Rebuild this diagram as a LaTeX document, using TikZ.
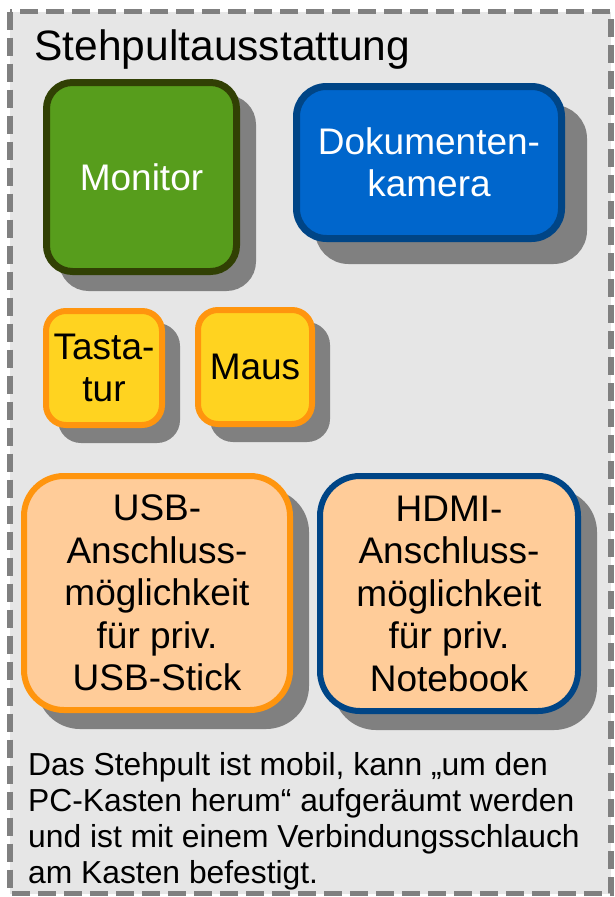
\documentclass[tikz,border=0pt]{standalone}
\usepackage{fontspec}
\setmainfont{Liberation Sans}
\usetikzlibrary{shadows}
\definecolor{bggray}{HTML}{E6E6E6}
\definecolor{framegray}{HTML}{808080}
\definecolor{shadowgray}{HTML}{808080}
\definecolor{mongreen}{HTML}{579D1C}
\definecolor{mondark}{HTML}{314004}
\definecolor{camblue}{HTML}{0066CC}
\definecolor{darkblue}{HTML}{004586}
\definecolor{ylw}{HTML}{FFD320}
\definecolor{orng}{HTML}{FF950E}
\definecolor{peach}{HTML}{FFCC99}
\tikzset{
  box/.style={rectangle, inner sep=0pt, align=center,
    font=\fontsize{37}{42.5}\selectfont},
  shad/.style={general shadow={shadow xshift=#1, shadow yshift=-#1,
    fill=shadowgray, draw=shadowgray}},
}
\begin{document}
\begin{tikzpicture}[x=1pt,y=-1pt]
\useasboundingbox (0,0) rectangle (614,897);
\draw[fill=bggray, draw=framegray, line width=5.5pt, dash pattern=on 18pt off 8pt]
  (10,11.5) rectangle (611,893.5);
\node[anchor=base west, font=\fontsize{42.5}{48}\selectfont] (title) at (31,60) {Stehpultausstattung};

\node[box, shad=16pt, fill=mongreen, draw=mondark, line width=7pt, rounded corners=26pt,
  minimum width=190pt, minimum height=189pt, text=white] (monitor) at (141.5,177) {Monitor};
\node[box, shad=22pt, fill=camblue, draw=darkblue, line width=7pt, rounded corners=30pt,
  minimum width=265pt, minimum height=152pt, text=white] (kamera) at (429,162.5) {Dokumenten-\\kamera};

\node[box, shad=15pt, fill=ylw, draw=orng, line width=6pt, rounded corners=20pt,
  minimum width=116pt, minimum height=114pt] (tastatur) at (104,368) {Tasta-\\tur};
\node[box, shad=15pt, fill=ylw, draw=orng, line width=6pt, rounded corners=20pt,
  minimum width=114pt, minimum height=114pt] (maus) at (255,367) {Maus};

\node[box, shad=16pt, fill=peach, draw=orng, line width=6pt, rounded corners=40pt,
  minimum width=266pt, minimum height=234pt] (usb) at (157,593)
  {USB-\\Anschluss-\\möglichkeit\\für priv.\\USB-Stick};
\node[box, shad=16pt, fill=peach, draw=darkblue, line width=6pt, rounded corners=40pt,
  minimum width=258pt, minimum height=235pt] (hdmi) at (449,593.5)
  {HDMI-\\Anschluss-\\möglichkeit\\für priv.\\Notebook};

\node[anchor=base west, align=left, inner sep=0pt, font=\fontsize{31.8}{36}\selectfont] (note) at (28,883)
  {Das Stehpult ist mobil, kann „um den\\PC-Kasten herum“ aufgeräumt werden\\und ist mit einem Verbindungsschlauch\\am Kasten befestigt.};
\end{tikzpicture}
\end{document}
